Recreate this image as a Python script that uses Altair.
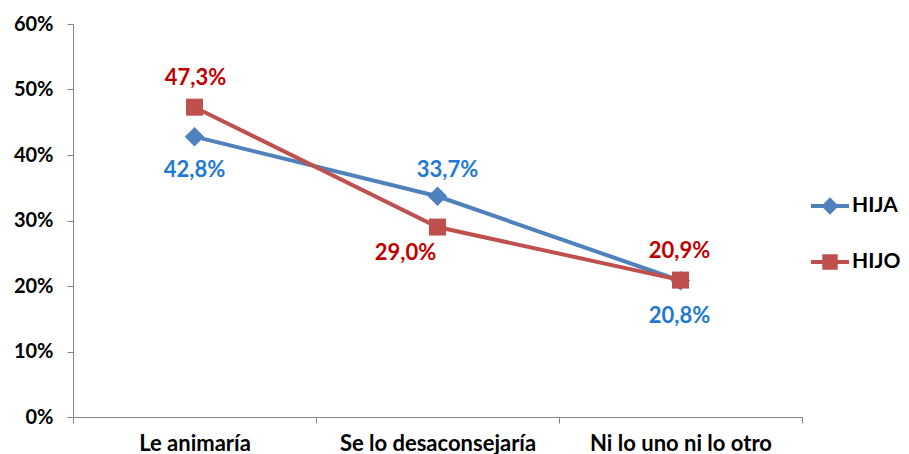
import altair as alt
import pandas as pd

categories = ["Le animaría", "Se lo desaconsejaría", "Ni lo uno ni lo otro"]
series = ["HIJA", "HIJO"]
hija = [42.8, 33.7, 20.8]
hijo = [47.3, 29.0, 20.9]
y_ticks = [0, 10, 20, 30, 40, 50, 60]

# label placement (style, pixels)
hija_dx = [0, 10, -1]
hija_dy = [33, -26, 35]
hijo_dx = [1, -32, -1]
hijo_dy = [-29, 26, -29]

rows = []
for s, vals in [("HIJA", hija), ("HIJO", hijo)]:
    for c, v in zip(categories, vals):
        rows.append({"cat": c, "serie": s, "val": v,
                     "lab": f"{v:.1f}".replace(".", ",") + "%"})
df = pd.DataFrame(rows)
legend_df = pd.DataFrame({"serie": series})

FONT = "Lato"
line_colors = ["#4F81BD", "#C0504D"]
label_colors = {"HIJA": "#1F7AD2", "HIJO": "#C00000"}

x = alt.X("cat:N", sort=categories, title=None,
          scale=alt.Scale(paddingInner=0, paddingOuter=0),
          axis=alt.Axis(tickBand="extent", labelAngle=0, labelFont=FONT, labelFontSize=22,
                        labelFontWeight="bold", labelColor="#000", domainColor="#868686",
                        tickColor="#868686", tickSize=6, labelPadding=10, labelLimit=400,
                        grid=False))
y = alt.Y("val:Q", title=None, scale=alt.Scale(domain=[0, 60]),
          axis=alt.Axis(values=y_ticks, labelExpr="datum.value + '%'", labelFont=FONT,
                        labelFontSize=20, labelFontWeight="bold", labelColor="#000",
                        domainColor="#868686", tickColor="#868686", tickSize=6,
                        labelPadding=14, grid=False))

series_scale = alt.Scale(domain=series, range=line_colors)
col = alt.Color("serie:N", scale=series_scale, legend=None)

base = alt.Chart(df)
lines = base.mark_line(strokeWidth=4).encode(x=x, y=y, color=col)

main_layers = [lines]
for s, shp, sz in [("HIJA", "diamond", 380), ("HIJO", "square", 290)]:
    main_layers.append(base.transform_filter(alt.datum.serie == s).mark_point(
        filled=True, opacity=1, shape=shp, size=sz).encode(x=x, y=y, color=col))

for s, dxs, dys in [("HIJA", hija_dx, hija_dy), ("HIJO", hijo_dx, hijo_dy)]:
    for c, dx, dy in zip(categories, dxs, dys):
        main_layers.append(base.transform_filter(
            (alt.datum.serie == s) & (alt.datum.cat == c)).mark_text(
            font=FONT, fontSize=22, fontWeight="bold", baseline="middle",
            dx=dx, dy=dy, color=label_colors[s]).encode(x=x, y=y, text="lab:N"))

main = alt.layer(*main_layers)

# legend drawn as marks to the right of the plot
ly = alt.Y("serie:N", scale=alt.Scale(type="point", domain=series, range=[182, 238], padding=0),
           axis=None)
lbase = alt.Chart(legend_df)
leg_line = lbase.mark_rule(strokeWidth=4).encode(
    x=alt.value(738), x2=alt.value(776), y=ly, color=col)
leg_pts = lbase.mark_point(filled=True, opacity=1).encode(
    x=alt.value(757), y=ly, color=col,
    shape=alt.Shape("serie:N", scale=alt.Scale(domain=series, range=["diamond", "square"]), legend=None),
    size=alt.Size("serie:N", scale=alt.Scale(domain=series, range=[300, 240]), legend=None))
leg_txt = lbase.mark_text(font=FONT, fontSize=21, fontWeight="bold", align="left",
                          baseline="middle", color="#000").encode(
    x=alt.value(779), y=ly, text="serie:N")
legend = alt.layer(leg_line, leg_pts, leg_txt)

chart = alt.layer(main, legend).resolve_scale(y="independent").properties(
    width=729, height=393,
    autosize=alt.AutoSizeParams(type="none"),
    padding={"left": 65, "top": 16, "right": 99, "bottom": 37},
    background="white",
).configure_view(stroke=None)

chart.save("out.html", embed_options={"renderer": "svg", "actions": False})
